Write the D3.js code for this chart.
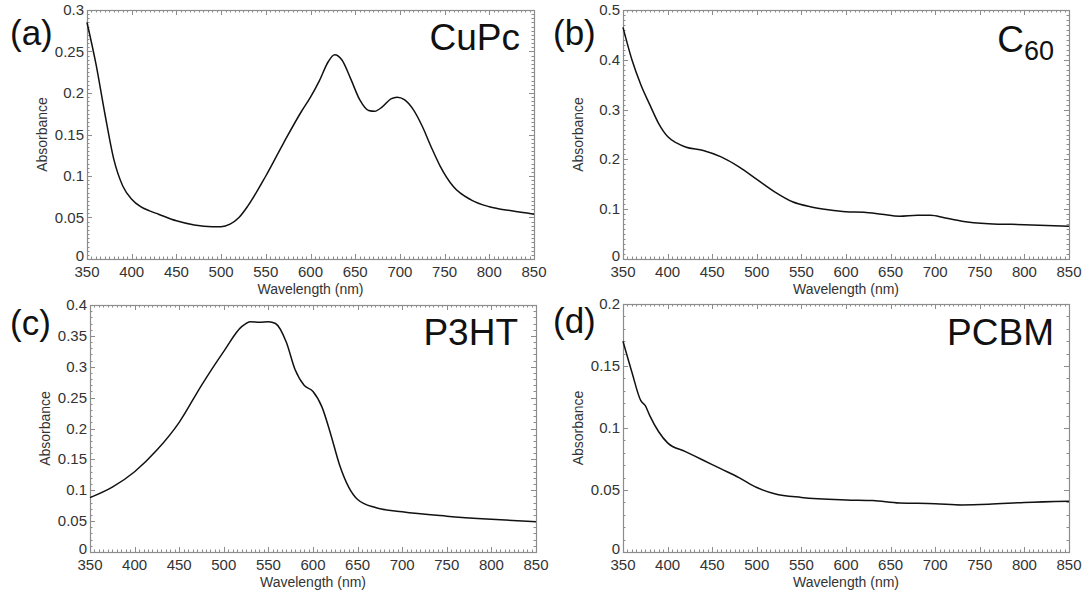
<!DOCTYPE html>
<html lang="en">
<head>
  <meta charset="UTF-8">
  <title>Absorbance spectra</title>
  <script src="https://d3js.org/d3.v7.min.js"></script>
  <style>
    body { margin: 0; padding: 0; background: #fff; }
    svg { display: block; font-family: "Liberation Sans", Arial, sans-serif; }
    .tick-label { font-size: 15px; fill: #333; }
    .axis-title { font-size: 14px; fill: #333; }
  </style>
</head>
<body>
  <svg width="1086" height="596"></svg>
  <script>
    // wavelengths (nm) and absorbance
    const cupcWl  = [350, 360, 370, 380, 390, 400, 410, 420, 430, 450, 470, 490, 500, 510, 520, 530, 550, 570, 590, 600, 610, 620, 627, 635, 645, 655, 665, 672, 680, 690, 697, 705, 715, 725, 735, 745, 760, 780, 800, 825, 850];
    const cupcAbs = [0.285, 0.235, 0.175, 0.12, 0.088, 0.072, 0.063, 0.058, 0.054, 0.046, 0.041, 0.039, 0.039, 0.042, 0.05, 0.064, 0.1, 0.14, 0.178, 0.195, 0.215, 0.238, 0.246, 0.24, 0.217, 0.192, 0.179, 0.178, 0.183, 0.193, 0.195, 0.192, 0.18, 0.16, 0.135, 0.112, 0.087, 0.071, 0.063, 0.058, 0.054];

    const c60Wl  = [350, 360, 370, 380, 390, 400, 410, 420, 440, 460, 480, 500, 520, 540, 560, 580, 600, 620, 640, 660, 680, 695, 710, 730, 760, 800, 850];
    const c60Abs = [0.465, 0.4, 0.35, 0.31, 0.272, 0.246, 0.233, 0.225, 0.218, 0.205, 0.185, 0.16, 0.135, 0.115, 0.105, 0.099, 0.095, 0.094, 0.09, 0.086, 0.088, 0.088, 0.083, 0.076, 0.071, 0.069, 0.066];

    const p3htWl  = [350, 375, 400, 425, 450, 475, 500, 520, 530, 540, 550, 558, 570, 580, 590, 600, 610, 620, 630, 640, 650, 670, 700, 750, 800, 850];
    const p3htAbs = [0.088, 0.105, 0.13, 0.165, 0.21, 0.27, 0.325, 0.365, 0.373, 0.372, 0.373, 0.37, 0.34, 0.295, 0.27, 0.26, 0.235, 0.19, 0.14, 0.105, 0.085, 0.072, 0.065, 0.058, 0.053, 0.049];

    const pcbmWl  = [350, 360, 370, 375, 380, 390, 400, 420, 440, 460, 480, 500, 520, 550, 600, 630, 660, 700, 730, 760, 800, 850];
    const pcbmAbs = [0.17, 0.145, 0.122, 0.118, 0.11, 0.097, 0.088, 0.081, 0.074, 0.067, 0.06, 0.052, 0.047, 0.044, 0.042, 0.0415, 0.0395, 0.039, 0.038, 0.0385, 0.04, 0.041];

    const xTicks = [350, 400, 450, 500, 550, 600, 650, 700, 750, 800, 850];

    const panels = [
      { tag: "(a)", name: "CuPc", sub: "", wl: cupcWl, abs: cupcAbs, yMax: 0.3, yStep: 0.05, yMinor: 0.005,
        box: { x0: 87, x1: 534, y0: 10, y1: 259 }, tagPos: [10, 45], namePos: [520, 50] },
      { tag: "(b)", name: "C", sub: "60", wl: c60Wl, abs: c60Abs, yMax: 0.5, yStep: 0.1, yMinor: 0.01,
        box: { x0: 623, x1: 1069, y0: 10, y1: 259 }, tagPos: [553, 45], namePos: [1054, 52] },
      { tag: "(c)", name: "P3HT", sub: "", wl: p3htWl, abs: p3htAbs, yMax: 0.4, yStep: 0.05, yMinor: 0.01,
        box: { x0: 90, x1: 536, y0: 305, y1: 552 }, tagPos: [10, 335], namePos: [518, 345] },
      { tag: "(d)", name: "PCBM", sub: "", wl: pcbmWl, abs: pcbmAbs, yMax: 0.2, yStep: 0.05, yMinor: 0.01,
        box: { x0: 623, x1: 1069, y0: 304, y1: 552 }, tagPos: [553, 333], namePos: [1054, 345] }
    ];

    const svg = d3.select("svg");
    const fmt = d3.format("~g");
    const axisColor = "#8c8c8c";

    panels.forEach(p => {
      const b = p.box;
      const x = d3.scaleLinear().domain([350, 850]).range([b.x0, b.x1]);
      const y = d3.scaleLinear().domain([0, p.yMax]).range([b.y1, b.y0]);
      const g = svg.append("g");

      const xMinor = d3.range(350, 850.01, 5);
      const yMajor = d3.range(0, p.yMax + 1e-9, p.yStep);
      const yMinor = d3.range(0, p.yMax + 1e-9, p.yMinor);

      // ticks on all four sides, pointing inwards
      const tk = g.append("g").attr("stroke", axisColor).attr("stroke-width", 1);
      xMinor.forEach(v => {
        const len = xTicks.includes(Math.round(v)) ? 5 : 2.5;
        const px = Math.round(x(v)) + 0.5;
        tk.append("line").attr("x1", px).attr("x2", px).attr("y1", b.y1).attr("y2", b.y1 - len);
        tk.append("line").attr("x1", px).attr("x2", px).attr("y1", b.y0).attr("y2", b.y0 + len);
      });
      yMinor.forEach(v => {
        const isMajor = yMajor.some(m => Math.abs(m - v) < 1e-9);
        const len = isMajor ? 5 : 2.5;
        const py = Math.round(y(v)) + 0.5;
        tk.append("line").attr("y1", py).attr("y2", py).attr("x1", b.x0).attr("x2", b.x0 + len);
        tk.append("line").attr("y1", py).attr("y2", py).attr("x1", b.x1).attr("x2", b.x1 - len);
      });

      g.append("rect")
        .attr("x", b.x0 + 0.5).attr("y", b.y0 + 0.5)
        .attr("width", b.x1 - b.x0).attr("height", b.y1 - b.y0)
        .attr("fill", "none").attr("stroke", axisColor).attr("stroke-width", 1.2);

      // tick labels
      g.selectAll(".xl").data(xTicks).join("text")
        .attr("class", "tick-label")
        .attr("x", d => x(d)).attr("y", b.y1 + 18)
        .attr("text-anchor", "middle")
        .text(d => d);
      g.selectAll(".yl").data(yMajor).join("text")
        .attr("class", "tick-label")
        .attr("x", b.x0 - 3).attr("y", d => y(d) + (d === 0 ? 2 : 5))
        .attr("text-anchor", "end")
        .text(d => fmt(+d.toFixed(3)));

      g.append("text").attr("class", "axis-title")
        .attr("x", (b.x0 + b.x1) / 2).attr("y", b.y1 + 35)
        .attr("text-anchor", "middle")
        .text("Wavelength (nm)");
      g.append("text").attr("class", "axis-title")
        .attr("transform", `translate(${b.x0 - 40},${(b.y0 + b.y1) / 2}) rotate(-90)`)
        .attr("text-anchor", "middle")
        .text("Absorbance");

      // spectrum
      const line = d3.line()
        .x((d, i) => x(p.wl[i]))
        .y(d => y(d))
        .curve(d3.curveMonotoneX);
      g.append("path")
        .datum(p.abs)
        .attr("d", line)
        .attr("fill", "none")
        .attr("stroke", "#111")
        .attr("stroke-width", 1.5);

      // panel tag and material name
      g.append("text")
        .attr("x", p.tagPos[0]).attr("y", p.tagPos[1])
        .attr("font-size", 35).attr("fill", "#111")
        .text(p.tag);
      const nm = g.append("text")
        .attr("x", p.namePos[0]).attr("y", p.namePos[1])
        .attr("text-anchor", "end")
        .attr("font-size", 37).attr("fill", "#111")
        .text(p.name);
      if (p.sub) {
        nm.append("tspan").attr("font-size", 27).attr("dy", 8).text(p.sub);
      }
    });
  </script>
</body>
</html>
